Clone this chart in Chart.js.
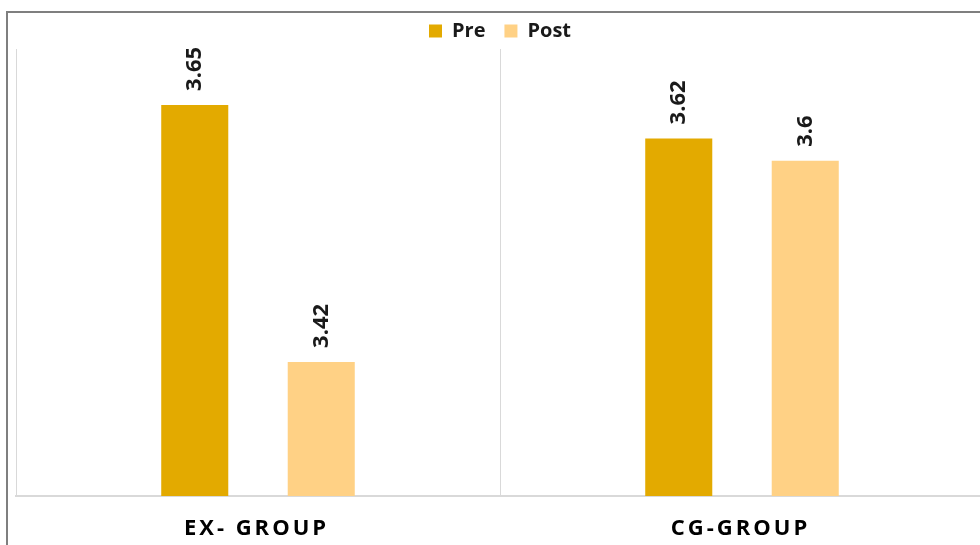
<!DOCTYPE html>
<html>
<head>
<meta charset="utf-8">
<script src="https://cdn.jsdelivr.net/npm/chart.js@4.4.0/dist/chart.umd.min.js"></script>
<style>
  html, body { margin: 0; padding: 0; background: #ffffff; overflow: hidden; width: 980px; height: 545px; }
  #frame { position: absolute; left: 6px; top: 11px; width: 2000px; height: 2000px; border-left: 2px solid #7f7f7f; border-top: 2px solid #7f7f7f; box-sizing: border-box; }
  #wrap { position: absolute; left: 0; top: 0; width: 1000px; height: 545px; }
</style>
</head>
<body>
<div id="frame"></div>
<div id="wrap"><canvas id="c" width="1000" height="545"></canvas></div>
<script>
const categories = ['EX- GROUP', 'CG-GROUP'];
const seriesNames = ['Pre', 'Post'];
const preValues = [3.65, 3.62];
const postValues = [3.42, 3.60];
const yMin = 3.3;
const yMax = 3.7;

const FONT = "'Open Sans', 'DejaVu Sans', sans-serif";

const valueLabels = {
  id: 'valueLabels',
  afterDatasetsDraw(chart) {
    const ctx = chart.ctx;
    chart.data.datasets.forEach((ds, di) => {
      const meta = chart.getDatasetMeta(di);
      meta.data.forEach((el, i) => {
        ctx.save();
        ctx.letterSpacing = '0px';
        ctx.translate(el.x, el.y - 14);
        ctx.rotate(-Math.PI / 2);
        ctx.font = "bold 22px " + FONT;
        ctx.fillStyle = '#1a1a1a';
        ctx.textAlign = 'left';
        ctx.textBaseline = 'middle';
        ctx.fillText(String(ds.data[i]), 0, 0);
        ctx.restore();
      });
    });
  }
};

const tweaks = {
  id: 'tweaks',
  beforeLayout(chart) {
    const lg = chart.legend;
    if (lg && !lg._tweaked) {
      const origFit = lg.fit.bind(lg);
      lg.fit = function () { origFit(); this.height -= 2; };
      lg._tweaked = true;
    }
  },
  beforeDraw(chart) {
    const s = chart.scales.x;
    if (s && !s._spaced) {
      const orig = s.drawLabels.bind(s);
      s.drawLabels = function (area) {
        const c = this.ctx;
        c.save();
        c.letterSpacing = '3px';
        c.translate(-1.5, 0);
        orig(area);
        c.restore();
      };
      s._spaced = true;
    }
  }
};

new Chart(document.getElementById('c'), {
  type: 'bar',
  data: {
    labels: categories,
    datasets: [
      { label: seriesNames[0], data: preValues, backgroundColor: '#E3AA00', borderWidth: 0,
        categoryPercentage: 0.5227, barPercentage: 0.53 },
      { label: seriesNames[1], data: postValues, backgroundColor: '#FFD185', borderWidth: 0,
        categoryPercentage: 0.5227, barPercentage: 0.53 }
    ]
  },
  options: {
    responsive: false,
    devicePixelRatio: 1,
    animation: false,
    layout: { padding: { left: 16, right: 16, top: 2, bottom: 4 } },
    plugins: {
      legend: {
        display: true,
        position: 'top',
        labels: {
          boxWidth: 13, boxHeight: 13, padding: 19,
          color: '#1a1a1a',
          font: { family: FONT, size: 20, weight: 'bold' }
        }
      },
      tooltip: { enabled: false }
    },
    scales: {
      x: {
        offset: true,
        grid: { display: true, offset: true, color: '#d9d9d9', lineWidth: 1, drawTicks: false },
        border: { display: true, color: '#d9d9d9', width: 2 },
        ticks: {
          color: '#000000',
          padding: 20,
          font: { family: FONT, size: 22, weight: 'bold' }
        },
        afterFit(scale) { scale.height = 45; }
      },
      y: {
        display: false,
        min: yMin,
        max: yMax
      }
    }
  },
  plugins: [valueLabels, tweaks]
});
</script>
</body>
</html>
